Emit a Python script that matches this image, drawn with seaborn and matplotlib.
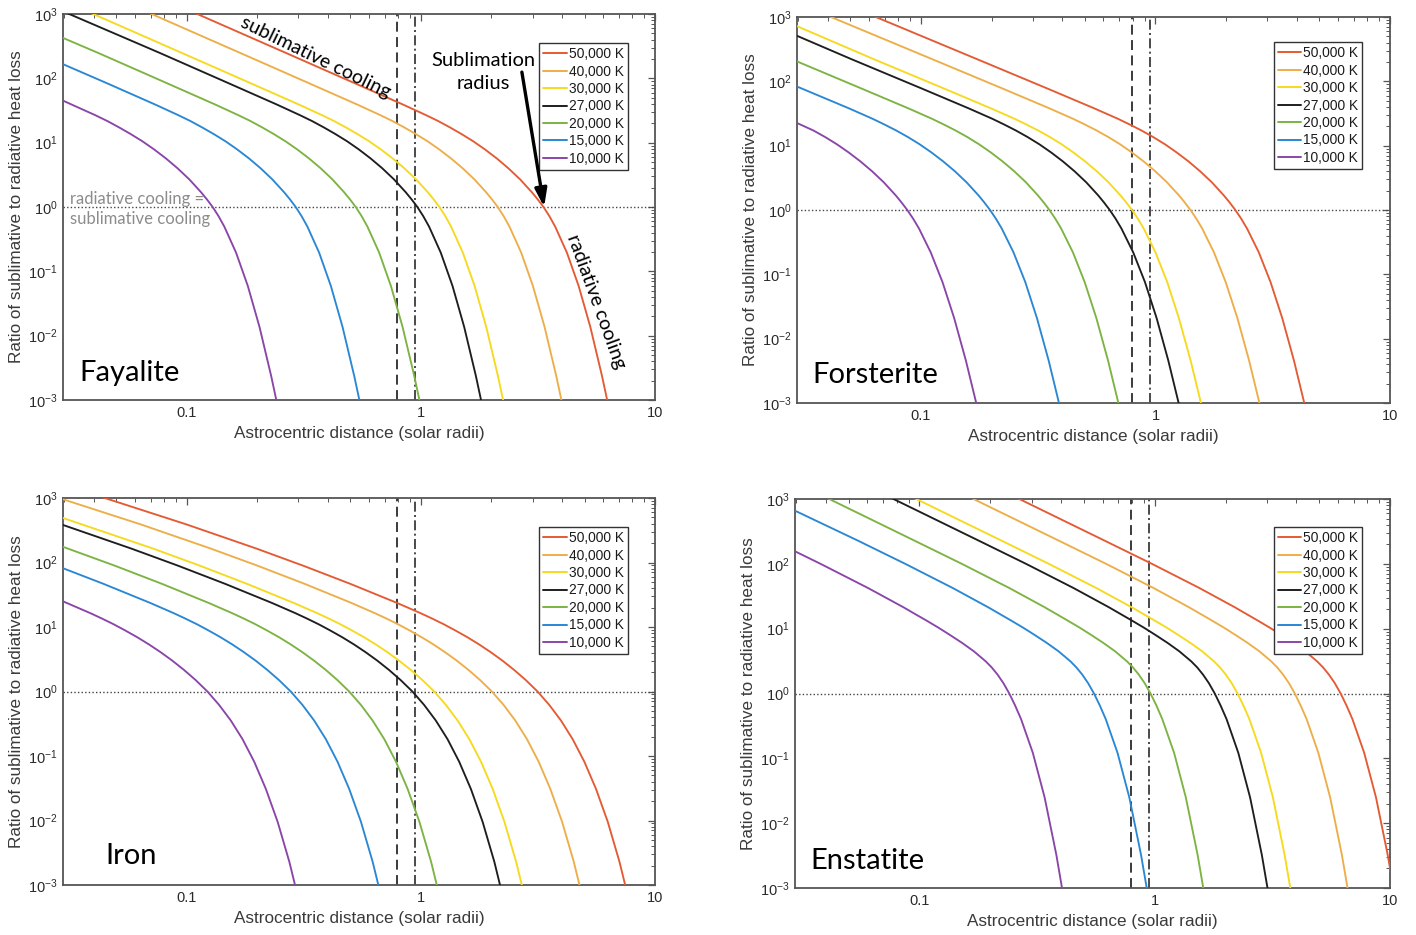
import numpy as np
import pandas as pd
import matplotlib
matplotlib.use("Agg")
import matplotlib.pyplot as plt
import seaborn as sns
from matplotlib.ticker import FixedLocator, FixedFormatter, NullFormatter, LogFormatterSciNotation

# ---------------- data ----------------
temps = ["50,000 K", "40,000 K", "30,000 K", "27,000 K", "20,000 K", "15,000 K", "10,000 K"]
colors = ["#E45A33", "#EDAE49", "#F5DA1E", "#1E1E1E", "#7CB342", "#2A87D4", "#8A45A8"]

dashed_x = 0.794     # vertical dashed line
dashdot_x = 0.946    # vertical dash-dot line
equal_y = 1.0        # radiative cooling = sublimative cooling

# ---- Fayalite ----
fay_50k_x = [0.1056, 0.2653, 0.5294, 0.839, 1.056, 1.185, 1.330, 1.492, 1.674, 1.878, 2.108, 2.364, 2.653, 2.977, 3.153, 3.34, 3.537, 3.747, 4.205, 4.719, 5.294, 5.939, 6.293]
fay_50k_y = [1081, 248, 82.0, 39.1, 26.6, 21.7, 17.3, 13.6, 10.5, 7.85, 5.70, 4.00, 2.69, 1.70, 1.318, 1, 0.723, 0.495, 0.195, 0.0592, 0.01365, 0.002355, 0.000881]
fay_40k_x = [0.06735, 0.1692, 0.3376, 0.535, 0.6735, 0.7557, 0.848, 0.9515, 1.068, 1.198, 1.344, 1.508, 1.692, 1.898, 2.011, 2.13, 2.256, 2.39, 2.682, 3.01, 3.376, 3.787, 4.013]
fay_40k_y = [1081, 248, 82.0, 39.1, 26.6, 21.7, 17.3, 13.6, 10.5, 7.85, 5.70, 4.00, 2.69, 1.70, 1.318, 1, 0.723, 0.495, 0.195, 0.0592, 0.01365, 0.002355, 0.000881]
fay_30k_x = [0.03794, 0.09532, 0.1902, 0.3014, 0.3794, 0.4258, 0.4777, 0.536, 0.6014, 0.6748, 0.7572, 0.8495, 0.9532, 1.07, 1.133, 1.2, 1.271, 1.346, 1.511, 1.696, 1.902, 2.134, 2.261]
fay_30k_y = [1081, 248, 82.0, 39.1, 26.6, 21.7, 17.3, 13.6, 10.5, 7.85, 5.70, 4.00, 2.69, 1.70, 1.318, 1, 0.723, 0.495, 0.195, 0.0592, 0.01365, 0.002355, 0.000881]
fay_27k_x = [0.0296, 0.07673, 0.1531, 0.2427, 0.3054, 0.3427, 0.3846, 0.4315, 0.4842, 0.5432, 0.6095, 0.6838, 0.7673, 0.861, 0.912, 0.966, 1.023, 1.084, 1.216, 1.365, 1.531, 1.718, 1.82]
fay_27k_y = [1100, 248, 82.0, 39.1, 26.6, 21.7, 17.3, 13.6, 10.5, 7.85, 5.70, 4.00, 2.69, 1.70, 1.318, 1, 0.723, 0.495, 0.195, 0.0592, 0.01365, 0.002355, 0.000881]
fay_20k_x = [0.0296, 0.04186, 0.08353, 0.1324, 0.1666, 0.187, 0.2098, 0.2354, 0.2641, 0.2963, 0.3325, 0.3731, 0.4186, 0.4697, 0.4975, 0.527, 0.5581, 0.5913, 0.6635, 0.7447, 0.8353, 0.937, 0.9929]
fay_20k_y = [425, 248, 82.0, 39.1, 26.6, 21.7, 17.3, 13.6, 10.5, 7.85, 5.70, 4.00, 2.69, 1.70, 1.318, 1, 0.723, 0.495, 0.195, 0.0592, 0.01365, 0.002355, 0.000881]
fay_15k_x = [0.0296, 0.04628, 0.07335, 0.09233, 0.1036, 0.1162, 0.1304, 0.1464, 0.1642, 0.1843, 0.2067, 0.2319, 0.2603, 0.2757, 0.292, 0.3092, 0.3276, 0.3676, 0.4126, 0.4628, 0.5192, 0.5501]
fay_15k_y = [166, 82.0, 39.1, 26.6, 21.7, 17.3, 13.6, 10.5, 7.85, 5.70, 4.00, 2.69, 1.70, 1.318, 1, 0.723, 0.495, 0.195, 0.0592, 0.01365, 0.002355, 0.000881]
fay_10k_x = [0.0296, 0.04079, 0.04577, 0.05135, 0.05762, 0.06465, 0.07254, 0.0814, 0.09132, 0.1025, 0.115, 0.1218, 0.129, 0.1366, 0.1447, 0.1624, 0.1823, 0.2045, 0.2294, 0.243]
fay_10k_y = [45, 26.6, 21.7, 17.3, 13.6, 10.5, 7.85, 5.70, 4.00, 2.69, 1.70, 1.318, 1, 0.723, 0.495, 0.195, 0.0592, 0.01365, 0.002355, 0.000881]

# ---- Forsterite ----
for_50k_x = [0.04369, 0.06925, 0.174, 0.3471, 0.5501, 0.6925, 0.777, 0.8718, 0.9783, 1.098, 1.231, 1.382, 1.55, 1.74, 1.952, 2.068, 2.19, 2.319, 2.457, 2.757, 3.094, 3.471, 3.894, 4.319]
for_50k_y = [1795, 891, 220, 76.9, 37.8, 26.1, 21.3, 17.2, 13.6, 10.5, 7.85, 5.70, 4.00, 2.69, 1.70, 1.318, 1, 0.734, 0.515, 0.220, 0.0759, 0.0209, 0.00457, 0.000966]
for_40k_x = [0.02813, 0.04458, 0.112, 0.2235, 0.3542, 0.4458, 0.5003, 0.5613, 0.6298, 0.7067, 0.7928, 0.8897, 0.9981, 1.12, 1.257, 1.331, 1.41, 1.493, 1.582, 1.775, 1.992, 2.235, 2.507, 2.781]
for_40k_y = [1795, 891, 220, 76.9, 37.8, 26.1, 21.3, 17.2, 13.6, 10.5, 7.85, 5.70, 4.00, 2.69, 1.70, 1.318, 1, 0.734, 0.515, 0.220, 0.0759, 0.0209, 0.00457, 0.000966]
for_30k_x = [0.0296, 0.06307, 0.1258, 0.1995, 0.2511, 0.2817, 0.3161, 0.3547, 0.398, 0.4465, 0.501, 0.5621, 0.6307, 0.7077, 0.7496, 0.794, 0.8408, 0.8909, 0.9996, 1.122, 1.258, 1.412, 1.566]
for_30k_y = [720, 220, 76.9, 37.8, 26.1, 21.3, 17.2, 13.6, 10.5, 7.85, 5.70, 4.00, 2.69, 1.70, 1.318, 1, 0.734, 0.515, 0.220, 0.0759, 0.0209, 0.00457, 0.000966]
for_27k_x = [0.0296, 0.05068, 0.1011, 0.1603, 0.2018, 0.2264, 0.254, 0.285, 0.3198, 0.3588, 0.4026, 0.4516, 0.5068, 0.5687, 0.6023, 0.638, 0.6756, 0.7158, 0.8032, 0.9015, 1.011, 1.134, 1.258]
for_27k_y = [510, 220, 76.9, 37.8, 26.1, 21.3, 17.2, 13.6, 10.5, 7.85, 5.70, 4.00, 2.69, 1.70, 1.318, 1, 0.734, 0.515, 0.220, 0.0759, 0.0209, 0.00457, 0.000966]
for_20k_x = [0.0296, 0.05595, 0.08867, 0.1116, 0.1252, 0.1405, 0.1577, 0.1769, 0.1985, 0.2227, 0.2499, 0.2804, 0.3146, 0.3333, 0.353, 0.3738, 0.3961, 0.4444, 0.4988, 0.5595, 0.6276, 0.6961]
for_20k_y = [204, 76.9, 37.8, 26.1, 21.3, 17.2, 13.6, 10.5, 7.85, 5.70, 4.00, 2.69, 1.70, 1.318, 1, 0.734, 0.515, 0.220, 0.0759, 0.0209, 0.00457, 0.000966]
for_15k_x = [0.0296, 0.04949, 0.06229, 0.0699, 0.07843, 0.088, 0.09874, 0.1108, 0.1243, 0.1395, 0.1565, 0.1756, 0.186, 0.197, 0.2086, 0.221, 0.248, 0.2784, 0.3122, 0.3503, 0.3885]
for_15k_y = [83, 37.8, 26.1, 21.3, 17.2, 13.6, 10.5, 7.85, 5.70, 4.00, 2.69, 1.70, 1.318, 1, 0.734, 0.515, 0.220, 0.0759, 0.0209, 0.00457, 0.000966]
for_10k_x = [0.0296, 0.03479, 0.03904, 0.04381, 0.04915, 0.05515, 0.06187, 0.06942, 0.0779, 0.08251, 0.0874, 0.09256, 0.09807, 0.11, 0.1235, 0.1385, 0.1554, 0.1724]
for_10k_y = [22.5, 17.2, 13.6, 10.5, 7.85, 5.70, 4.00, 2.69, 1.70, 1.318, 1, 0.734, 0.515, 0.220, 0.0759, 0.0209, 0.00457, 0.000966]

# ---- Iron ----
iron_50k_x = [0.03966, 0.0996, 0.1988, 0.315, 0.4993, 0.7913, 0.996, 1.118, 1.254, 1.407, 1.579, 1.771, 1.988, 2.23, 2.502, 2.808, 3.15, 3.534, 3.966, 4.451, 4.993, 5.601, 6.284, 7.053, 7.469]
iron_50k_y = [1148, 390, 164, 88.9, 46.7, 23.6, 16.4, 13.5, 11.0, 8.79, 6.95, 5.38, 4.07, 3.01, 2.16, 1.50, 1, 0.62, 0.355, 0.182, 0.0813, 0.0307, 0.00955, 0.00228, 0.000977]
iron_40k_x = [0.0296, 0.06356, 0.1268, 0.201, 0.3186, 0.5049, 0.6356, 0.7131, 0.8002, 0.8979, 1.007, 1.13, 1.268, 1.423, 1.597, 1.792, 2.01, 2.255, 2.531, 2.84, 3.186, 3.574, 4.01, 4.5, 4.766]
iron_40k_y = [955, 390, 164, 88.9, 46.7, 23.6, 16.4, 13.5, 11.0, 8.79, 6.95, 5.38, 4.07, 3.01, 2.16, 1.50, 1, 0.62, 0.355, 0.182, 0.0813, 0.0307, 0.00955, 0.00228, 0.000977]
iron_30k_x = [0.0296, 0.07193, 0.114, 0.1807, 0.2864, 0.3605, 0.4045, 0.4538, 0.5092, 0.5714, 0.641, 0.7193, 0.807, 0.9055, 1.016, 1.14, 1.279, 1.435, 1.611, 1.807, 2.027, 2.274, 2.552, 2.703]
iron_30k_y = [490, 164, 88.9, 46.7, 23.6, 16.4, 13.5, 11.0, 8.79, 6.95, 5.38, 4.07, 3.01, 2.16, 1.50, 1, 0.62, 0.355, 0.182, 0.0813, 0.0307, 0.00955, 0.00228, 0.000977]
iron_27k_x = [0.0296, 0.05805, 0.092, 0.1458, 0.2311, 0.2909, 0.3264, 0.3663, 0.411, 0.4611, 0.5173, 0.5805, 0.6513, 0.7308, 0.82, 0.92, 1.032, 1.158, 1.3, 1.458, 1.636, 1.835, 2.06, 2.181]
iron_27k_y = [382, 164, 88.9, 46.7, 23.6, 16.4, 13.5, 11.0, 8.79, 6.95, 5.38, 4.07, 3.01, 2.16, 1.50, 1, 0.62, 0.355, 0.182, 0.0813, 0.0307, 0.00955, 0.00228, 0.000977]
iron_20k_x = [0.0296, 0.0494, 0.0783, 0.1241, 0.1562, 0.1753, 0.1967, 0.2207, 0.2476, 0.2778, 0.3117, 0.3497, 0.3924, 0.4403, 0.494, 0.5543, 0.6219, 0.698, 0.783, 0.8783, 0.9855, 1.106, 1.171]
iron_20k_y = [175, 88.9, 46.7, 23.6, 16.4, 13.5, 11.0, 8.79, 6.95, 5.38, 4.07, 3.01, 2.16, 1.50, 1, 0.62, 0.355, 0.182, 0.0813, 0.0307, 0.00955, 0.00228, 0.000977]
iron_15k_x = [0.0296, 0.04406, 0.06983, 0.0879, 0.09863, 0.1107, 0.1242, 0.1393, 0.1563, 0.1754, 0.1968, 0.2208, 0.2478, 0.278, 0.3119, 0.35, 0.3928, 0.4406, 0.4943, 0.5546, 0.6224, 0.6591]
iron_15k_y = [81.5, 46.7, 23.6, 16.4, 13.5, 11.0, 8.79, 6.95, 5.38, 4.07, 3.01, 2.16, 1.50, 1, 0.62, 0.355, 0.182, 0.0813, 0.0307, 0.00955, 0.00228, 0.000977]
iron_10k_x = [0.0296, 0.03873, 0.04346, 0.04877, 0.05472, 0.0614, 0.06888, 0.0773, 0.08672, 0.0973, 0.1092, 0.1225, 0.1374, 0.1542, 0.1731, 0.1942, 0.2178, 0.2444, 0.2743, 0.2904]
iron_10k_y = [25, 16.4, 13.5, 11.0, 8.79, 6.95, 5.38, 4.07, 3.01, 2.16, 1.50, 1, 0.62, 0.355, 0.182, 0.0813, 0.0307, 0.00955, 0.00228, 0.000977]

# ---- Enstatite ----
ens_50k_x = [0.2456, 0.617, 0.978, 1.55, 2.189, 2.456, 2.756, 3.092, 3.469, 3.893, 4.368, 4.901, 5.191, 5.499, 5.825, 6.17, 6.534, 6.923, 7.768, 8.718, 9.779, 10.36]
ens_50k_y = [1151, 225, 99.1, 42.3, 21.4, 16.8, 13.2, 10.3, 7.91, 6.01, 4.46, 3.13, 2.53, 1.96, 1.445, 1, 0.652, 0.403, 0.1216, 0.025, 0.00324, 0.000955]
ens_40k_x = [0.1568, 0.394, 0.6245, 0.9897, 1.398, 1.569, 1.76, 1.975, 2.215, 2.486, 2.789, 3.129, 3.315, 3.512, 3.72, 3.94, 4.172, 4.421, 4.96, 5.567, 6.245, 6.615]
ens_40k_y = [1151, 225, 99.1, 42.3, 21.4, 16.8, 13.2, 10.3, 7.91, 6.01, 4.46, 3.13, 2.53, 1.96, 1.445, 1, 0.652, 0.403, 0.1216, 0.025, 0.00324, 0.000955]
ens_30k_x = [0.08957, 0.225, 0.3566, 0.5652, 0.7983, 0.8957, 1.005, 1.128, 1.265, 1.42, 1.593, 1.787, 1.893, 2.005, 2.124, 2.25, 2.383, 2.525, 2.833, 3.179, 3.566, 3.778]
ens_30k_y = [1151, 225, 99.1, 42.3, 21.4, 16.8, 13.2, 10.3, 7.91, 6.01, 4.46, 3.13, 2.53, 1.96, 1.445, 1, 0.652, 0.403, 0.1216, 0.025, 0.00324, 0.000955]
ens_27k_x = [0.07166, 0.18, 0.2853, 0.4522, 0.6386, 0.7166, 0.8041, 0.9022, 1.012, 1.136, 1.274, 1.43, 1.515, 1.604, 1.699, 1.8, 1.906, 2.02, 2.266, 2.543, 2.853, 3.022]
ens_27k_y = [1151, 225, 99.1, 42.3, 21.4, 16.8, 13.2, 10.3, 7.91, 6.01, 4.46, 3.13, 2.53, 1.96, 1.445, 1, 0.652, 0.403, 0.1216, 0.025, 0.00324, 0.000955]
ens_20k_x = [0.03822, 0.096, 0.1522, 0.2412, 0.3406, 0.3822, 0.4288, 0.4812, 0.5398, 0.6058, 0.6796, 0.7625, 0.8077, 0.8556, 0.9063, 0.96, 1.017, 1.077, 1.209, 1.356, 1.522, 1.612]
ens_20k_y = [1151, 225, 99.1, 42.3, 21.4, 16.8, 13.2, 10.3, 7.91, 6.01, 4.46, 3.13, 2.53, 1.96, 1.445, 1, 0.652, 0.403, 0.1216, 0.025, 0.00324, 0.000955]
ens_15k_x = [0.0296, 0.0552, 0.08749, 0.1387, 0.1959, 0.2198, 0.2466, 0.2767, 0.3104, 0.3483, 0.3908, 0.4385, 0.4645, 0.492, 0.5211, 0.552, 0.5846, 0.6193, 0.695, 0.78, 0.8749, 0.9268]
ens_15k_y = [660, 225, 99.1, 42.3, 21.4, 16.8, 13.2, 10.3, 7.91, 6.01, 4.46, 3.13, 2.53, 1.96, 1.445, 1, 0.652, 0.403, 0.1216, 0.025, 0.00324, 0.000955]
ens_10k_x = [0.0296, 0.0382, 0.06054, 0.08551, 0.09594, 0.1077, 0.1208, 0.1355, 0.1521, 0.1706, 0.1914, 0.2028, 0.2148, 0.2275, 0.241, 0.2552, 0.2704, 0.3034, 0.3405, 0.382, 0.4046]
ens_10k_y = [156, 99.1, 42.3, 21.4, 16.8, 13.2, 10.3, 7.91, 6.01, 4.46, 3.13, 2.53, 1.96, 1.445, 1, 0.652, 0.403, 0.1216, 0.025, 0.00324, 0.000955]

x_ticks = [0.1, 1, 10]
x_tick_labels = ["0.1", "1", "10"]
y_ticks = [1e-3, 1e-2, 1e-1, 1e0, 1e1, 1e2, 1e3]
x_label = "Astrocentric distance (solar radii)"
y_label = "Ratio of sublimative to radiative heat loss"

# ---------------- style ----------------
sns.set_theme(style="white")
plt.rcParams["font.family"] = ["Liberation Sans", "DejaVu Sans"]
plt.rcParams["mathtext.fontset"] = "custom"
plt.rcParams["mathtext.rm"] = "Liberation Sans"
plt.rcParams["mathtext.it"] = "Liberation Sans:italic"
plt.rcParams["mathtext.bf"] = "Liberation Sans:bold"

W, H = 1416, 935
fig = plt.figure(figsize=(W / 100, H / 100), dpi=100)
fig.patch.set_facecolor("white")

def rect(l, r, t, b):
    return [l / W, 1 - b / H, (r - l) / W, (b - t) / H]

panels = [
    ("Fayalite",
     [fay_50k_x, fay_40k_x, fay_30k_x, fay_27k_x, fay_20k_x, fay_15k_x, fay_10k_x],
     [fay_50k_y, fay_40k_y, fay_30k_y, fay_27k_y, fay_20k_y, fay_15k_y, fay_10k_y],
     rect(63, 655, 14, 400), (0.027, 0.049), (0.954, 0.925)),
    ("Forsterite",
     [for_50k_x, for_40k_x, for_30k_x, for_27k_x, for_20k_x, for_15k_x, for_10k_x],
     [for_50k_y, for_40k_y, for_30k_y, for_27k_y, for_20k_y, for_15k_y, for_10k_y],
     rect(797, 1390, 17, 403), (0.026, 0.052), (0.953, 0.935)),
    ("Iron",
     [iron_50k_x, iron_40k_x, iron_30k_x, iron_27k_x, iron_20k_x, iron_15k_x, iron_10k_x],
     [iron_50k_y, iron_40k_y, iron_30k_y, iron_27k_y, iron_20k_y, iron_15k_y, iron_10k_y],
     rect(63, 655, 498, 885), (0.072, 0.054), (0.954, 0.925)),
    ("Enstatite",
     [ens_50k_x, ens_40k_x, ens_30k_x, ens_27k_x, ens_20k_x, ens_15k_x, ens_10k_x],
     [ens_50k_y, ens_40k_y, ens_30k_y, ens_27k_y, ens_20k_y, ens_15k_y, ens_10k_y],
     rect(795, 1390, 499, 888), (0.026, 0.049), (0.953, 0.928)),
]

minor_x = [m * 10.0 ** e for e in (-2, -1, 0) for m in range(2, 10)]
minor_y = [m * 10.0 ** e for e in range(-3, 3) for m in range(2, 10)]

frame_col = "#555555"
axes = {}
for name, xls, yls, r, lab_pos, leg_anchor in panels:
    ax = fig.add_axes(r)
    axes[name] = ax
    ax.set_xscale("log")
    ax.set_yscale("log")
    frames = [pd.DataFrame({"x": xs, "y": ys, "T": t}) for t, xs, ys in zip(temps, xls, yls)]
    df = pd.concat(frames, ignore_index=True)
    sns.lineplot(data=df, x="x", y="y", hue="T", hue_order=temps, palette=colors,
                 sort=False, estimator=None, lw=1.35, ax=ax, legend=True, zorder=3)
    ax.set_xlim(0.0296, 10)
    ax.set_ylim(1e-3, 1e3)

    ax.axvline(dashed_x, color="#2b2b2b", lw=1.3, ls=(0, (5.5, 3)), zorder=2)
    ax.axvline(dashdot_x, color="#2b2b2b", lw=1.2, ls=(0, (6, 2, 1.2, 2)), zorder=2)
    ax.axhline(equal_y, color="#444444", lw=1.0, ls=(0, (1, 1.6)), zorder=2)

    for s in ax.spines.values():
        s.set_color(frame_col)
        s.set_linewidth(1.3)
    ax.xaxis.set_major_locator(FixedLocator(x_ticks))
    ax.xaxis.set_major_formatter(FixedFormatter(x_tick_labels))
    ax.xaxis.set_minor_locator(FixedLocator(minor_x))
    ax.xaxis.set_minor_formatter(NullFormatter())
    ax.yaxis.set_major_locator(FixedLocator(y_ticks))
    ax.yaxis.set_major_formatter(LogFormatterSciNotation())
    ax.yaxis.set_minor_locator(FixedLocator(minor_y))
    ax.yaxis.set_minor_formatter(NullFormatter())
    ax.tick_params(which="both", direction="in", top=True, right=True,
                   color=frame_col, labelcolor="#2a2a2a", labelsize=10.5)
    ax.tick_params(which="major", length=5, width=0.9, pad=4)
    ax.tick_params(which="minor", length=2.8, width=0.7)

    ax.set_xlabel(x_label, fontsize=12.3, color="#3a3a3a")
    ax.set_ylabel(y_label, fontsize=12.3, color="#3a3a3a")
    ax.xaxis.set_label_coords(0.5, -0.068)
    ax.yaxis.set_label_coords(-0.066, 0.5)

    handles, labels = ax.get_legend_handles_labels()
    leg = ax.legend(handles, labels, loc="upper right", bbox_to_anchor=leg_anchor,
                    borderaxespad=0, fontsize=9.9, frameon=True, fancybox=False,
                    framealpha=1, edgecolor="#333333", handlelength=1.7,
                    handletextpad=0.12, labelspacing=0.25, borderpad=0.3)
    leg.get_frame().set_linewidth(1.0)
    for h in leg.get_lines():
        h.set_linewidth(1.4)
    for tx in leg.get_texts():
        tx.set_color("#1a1a1a")
    leg.set_zorder(5)

    ax.text(lab_pos[0], lab_pos[1], name, transform=ax.transAxes, fontsize=21,
            family=["Lato", "DejaVu Sans"], color="black", ha="left", va="baseline", zorder=6)

# Fayalite annotations
ax = axes["Fayalite"]
ax.text(0.426, 0.888, "sublimative cooling", transform=ax.transAxes, rotation=-26,
        fontsize=14, family=["Lato", "DejaVu Sans"], ha="center", va="center", color="black",
        rotation_mode="anchor", zorder=6)
ax.text(0.900, 0.254, "radiative cooling", transform=ax.transAxes, rotation=-70,
        fontsize=14, family=["Lato", "DejaVu Sans"], ha="center", va="center", color="black",
        rotation_mode="anchor", zorder=6)
ax.text(0.7095, 0.850, "Sublimation\nradius", transform=ax.transAxes, fontsize=14.5,
        family=["Lato", "DejaVu Sans"], ha="center", va="center", linespacing=1.4,
        color="black", zorder=6)
ax.text(0.012, 0.495, "radiative cooling =\nsublimative cooling", transform=ax.transAxes,
        fontsize=12, family=["Lato", "DejaVu Sans"], ha="left", va="center", linespacing=1.35,
        color="#8c8c8c", zorder=6)
ax.annotate("", xy=(3.36, 1.0), xytext=(2.70, 125), xycoords="data", textcoords="data",
            arrowprops=dict(arrowstyle="-|>,head_length=0.9,head_width=0.3", color="black",
                            lw=2.4, shrinkA=0, shrinkB=0), zorder=7)

fig.savefig("out.png", dpi=100, facecolor="white")
